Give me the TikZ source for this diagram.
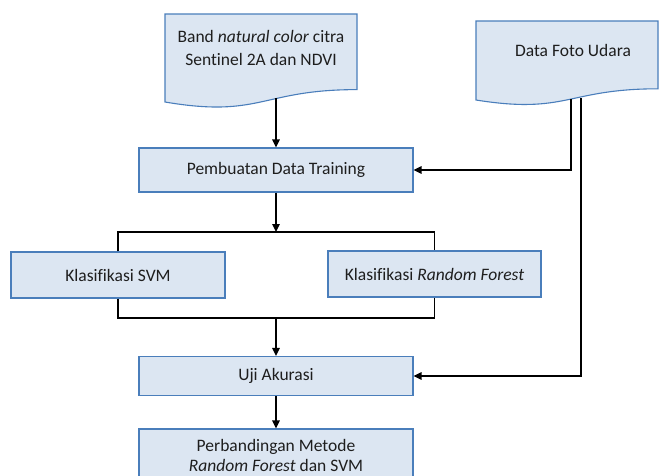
\documentclass[tikz,border=0pt]{standalone}
\usepackage{fontspec}
\setmainfont{Carlito}[Ligatures=NoCommon]
\usetikzlibrary{arrows.meta,positioning}
\definecolor{boxblue}{HTML}{4A7EBB}
\definecolor{boxfill}{HTML}{DCE6F2}
\definecolor{textgray}{HTML}{1E1E1E}
\tikzset{
  box/.style={draw=boxblue,fill=boxfill,line width=1.1pt,align=center,inner sep=0pt,font=\fontsize{17.5}{22}\selectfont,text=textgray},
  docshape/.style={draw=boxblue,fill=boxfill,line width=1.1pt},
  doctext/.style={align=center,inner sep=0pt,font=\fontsize{17.5}{23}\selectfont,text=textgray},
  flow/.style={-{Triangle[length=8pt,width=7.5pt]},line width=1.5pt,draw=black},
  joint/.style={line width=1.5pt,draw=black}
}
\begin{document}
\begin{tikzpicture}[x=1pt,y=-1pt]
  \clip (0,0) rectangle (660,475);
  \fill[white] (0,0) rectangle (660,475);
  % input documents
  \draw[docshape] (165,14) -- (357,14) -- (357,89.6) .. controls (261,89.6) and (261,118.3) .. (165,102) -- cycle;
  \draw[docshape] (476,21) -- (658,21) -- (658,88.8) .. controls (567,88.8) and (567,114.6) .. (476,100) -- cycle;
  \node[doctext] (citra) at (261,48) {Band \textit{natural color} citra\\Sentinel 2A dan NDVI};
  \node[doctext] (foto) at (573,50) {Data Foto Udara};
  \coordinate (citraout) at (276,98);
  \coordinate (fotoa) at (571,99);
  \coordinate (fotob) at (581,98);
  % process boxes
  \node[box,minimum width=274pt,minimum height=44pt] (training) at (276,170) {Pembuatan Data Training};
  \node[box,minimum width=214pt,minimum height=46pt] (svm) at (118,275) {Klasifikasi SVM};
  \node[box,minimum width=213pt,minimum height=46pt] (rf) at (434.5,274) {Klasifikasi \textit{Random Forest}};
  \node[box,minimum width=274pt,minimum height=39pt] (uji) at (276,376) {Uji Akurasi};
  \node[box,minimum width=274pt,minimum height=52pt,font=\fontsize{17.5}{20}\selectfont] (banding) at (276,455) {Perbandingan Metode\\\textit{Random Forest} dan SVM};
  \coordinate (pisah) at (276,232);
  \coordinate (gabung) at (276,318);
  % connectors
  \draw[flow] (citraout) -- (training.north);
  \draw[flow] (training.south) -- (pisah);
  \draw[joint] (svm.north) -- (svm.north |- pisah) -- (rf.north |- pisah) -- (rf.north);
  \draw[joint] (svm.south) -- (svm.south |- gabung) -- (rf.south |- gabung) -- (rf.south);
  \draw[flow] (gabung) -- (uji.north);
  \draw[flow] (uji.south) -- (banding.north);
  \draw[flow] (fotoa) |- (training.east);
  \draw[flow] (fotob) |- (uji.east);
\end{tikzpicture}
\end{document}
